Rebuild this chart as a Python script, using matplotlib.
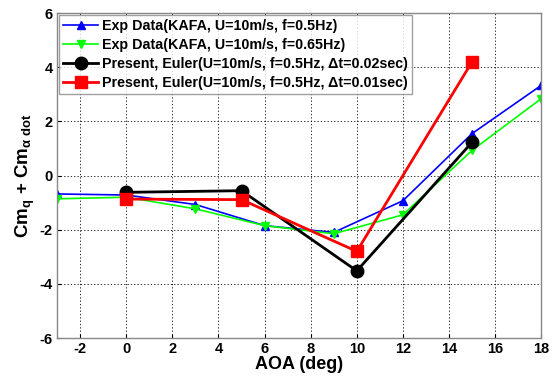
import matplotlib
matplotlib.use("Agg")
import matplotlib.pyplot as plt

plt.rcParams['font.family'] = ['Liberation Sans', 'DejaVu Sans']
plt.rcParams['font.weight'] = 'bold'
plt.rcParams['axes.unicode_minus'] = False
plt.rcParams['mathtext.fontset'] = 'custom'
plt.rcParams['mathtext.rm'] = 'Liberation Sans:bold'
plt.rcParams['mathtext.it'] = 'Liberation Sans:bold'
plt.rcParams['mathtext.bf'] = 'Liberation Sans:bold'

blue_x = [-3, 0, 3, 6, 9, 12, 15, 18]
blue_y = [-0.68, -0.72, -1.07, -1.85, -2.1, -0.93, 1.55, 3.33]
green_x = [-3, 0, 3, 6, 9, 12, 15, 18]
green_y = [-0.86, -0.8, -1.23, -1.85, -2.15, -1.45, 0.93, 2.84]
black_x = [0, 5, 10, 15]
black_y = [-0.62, -0.56, -3.52, 1.23]
red_x = [0, 5, 10, 15]
red_y = [-0.87, -0.89, -2.8, 4.2]

labels = ['Exp Data(KAFA, U=10m/s, f=0.5Hz)',
          'Exp Data(KAFA, U=10m/s, f=0.65Hz)',
          'Present, Euler(U=10m/s, f=0.5Hz, \u0394t=0.02sec)',
          'Present, Euler(U=10m/s, f=0.5Hz, \u0394t=0.01sec)']
xticks = [-2, 0, 2, 4, 6, 8, 10, 12, 14, 16, 18]
yticks = [-6, -4, -2, 0, 2, 4, 6]

fig = plt.figure(figsize=(5.54, 3.77), dpi=100)
ax = fig.add_axes([0.103, 0.1034, 0.874, 0.862])

ax.plot(blue_x, blue_y, color='#0000ff', lw=1.2, marker='^', ms=6, label=labels[0])
ax.plot(green_x, green_y, color='#00ff00', lw=1.2, marker='v', ms=6, label=labels[1])
ax.plot(black_x, black_y, color='black', lw=2.0, marker='o', ms=9, label=labels[2])
ax.plot(red_x, red_y, color='#ff0000', lw=2.0, marker='s', ms=8, label=labels[3])

ax.set_xlim(-3, 18)
ax.set_ylim(-6, 6)
ax.set_xticks(xticks)
ax.set_yticks(yticks)
ax.grid(True, color='black', linestyle=(0, (1.5, 2.5)), linewidth=0.6)
ax.tick_params(direction='in', labelsize=10.5, length=3, pad=3)
for lab in ax.get_xticklabels() + ax.get_yticklabels():
    lab.set_fontweight('bold')
for s in ax.spines.values():
    s.set_color('#888888')
    s.set_linewidth(1.0)

ax.set_xlabel('AOA (deg)', fontsize=13, fontweight='bold', labelpad=0)
ax.set_ylabel(r'Cm$_\mathregular{q}$ + Cm$_{\alpha\ \mathregular{dot}}$', fontsize=13.5, fontweight='bold', labelpad=2)

leg = ax.legend(loc='upper left', fontsize=10.3, frameon=True, fancybox=False,
                edgecolor='#888888', borderaxespad=0.15, handlelength=2.4,
                handletextpad=0.3, labelspacing=0.33, borderpad=0.3)
leg.get_frame().set_linewidth(1.0)
for t in leg.get_texts():
    t.set_fontweight('bold')

fig.savefig('out.png', dpi=100, facecolor='white')
